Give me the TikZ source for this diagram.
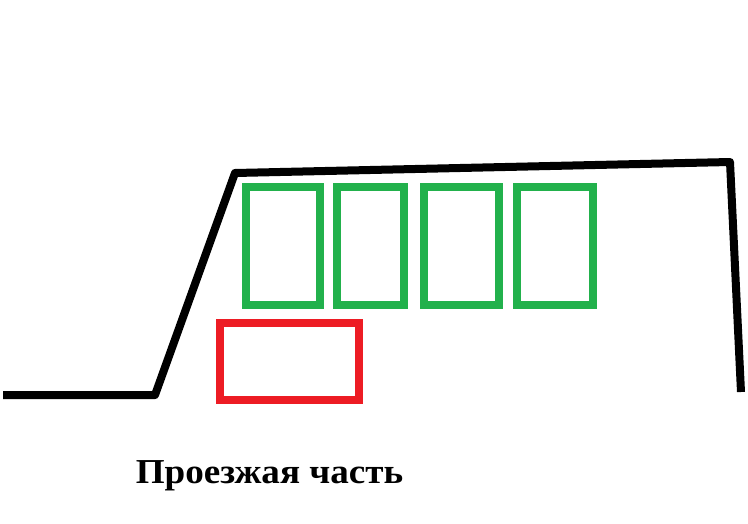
\documentclass[tikz,border=0pt]{standalone}
\usepackage{fontspec}
\setmainfont{Liberation Serif}
\usepackage{xcolor}
\usepackage{tikz}
\definecolor{paintgreen}{RGB}{34,177,76}
\definecolor{paintred}{RGB}{237,28,36}

\begin{document}
\begin{tikzpicture}[x=1pt,y=-1pt]
                \useasboundingbox (0,0) rectangle (748,523);
                % Road edge
                \draw[line width=8pt, line join=round] (3,395) -- (155,395) -- (235,173) -- (730,162) -- (741,392);
                % Places
                \foreach \a/\b in {246/320, 337/404, 424/499, 517/593} {
                    \draw[paintgreen, line width=8pt] (\a,187) rectangle (\b,305);
                }
                \draw[paintred, line width=8pt] (220,323) rectangle (359,400);
                \node[anchor=base, inner sep=0pt, xscale=1.06, font=\bfseries\fontsize{35}{42}\selectfont] (road) at (269.5,483) {Проезжая часть};
            \end{tikzpicture}
\end{document}
